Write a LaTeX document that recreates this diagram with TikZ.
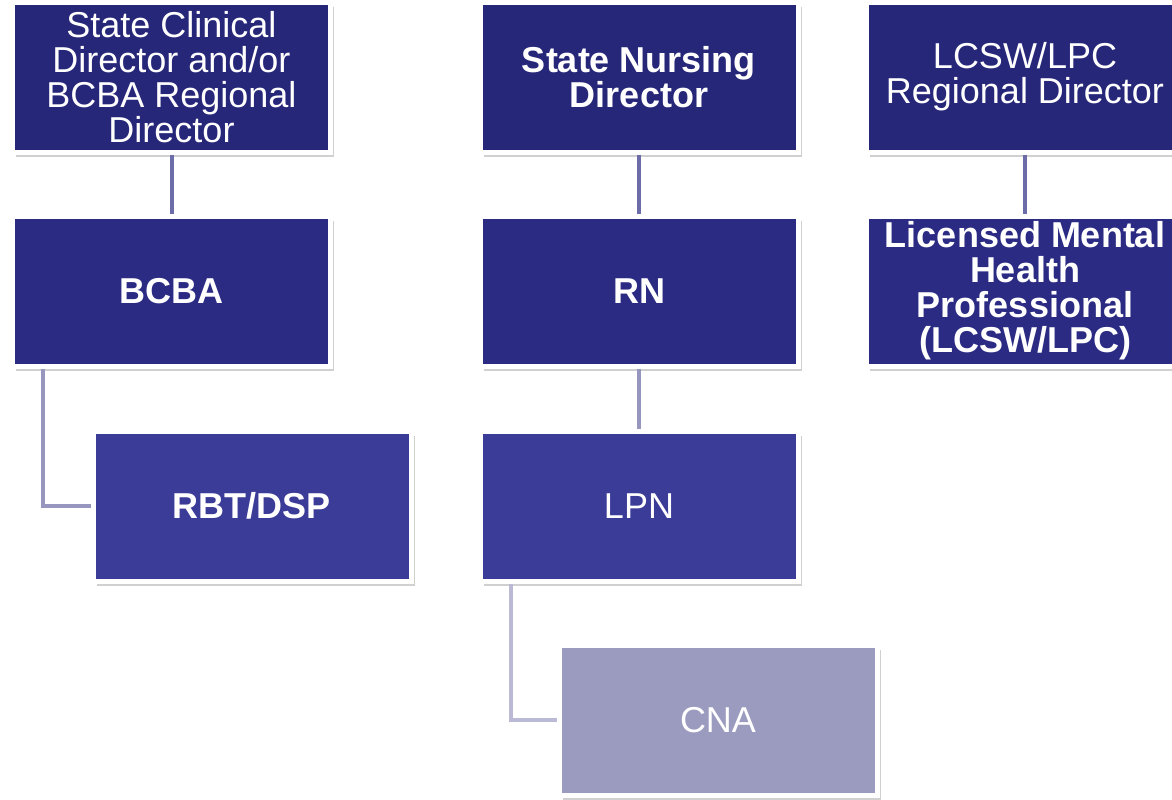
\documentclass[tikz,border=0pt]{standalone}
\usepackage{fontspec}
\setmainfont{Liberation Sans}
\usetikzlibrary{shadows}
\definecolor{topbox}{RGB}{39,39,122}
\definecolor{midbox}{RGB}{43,43,132}
\definecolor{lowbox}{RGB}{59,59,152}
\definecolor{palebox}{RGB}{155,155,192}
\definecolor{linkA}{RGB}{108,108,168}
\definecolor{linkB}{RGB}{150,150,190}
\definecolor{linkC}{RGB}{186,186,214}
\tikzset{
  box/.style={rectangle, minimum width=159pt, minimum height=75pt, inner sep=0pt,
    draw=white, line width=2.5pt, text=white, align=center,
    font=\fontsize{18}{17.5}\selectfont,
    drop shadow={shadow xshift=1.8pt, shadow yshift=-2.4pt, opacity=0.3, fill=black!60}},
  link/.style={line width=2pt}
}
\begin{document}
\begin{tikzpicture}[x=0.5pt,y=-0.5pt]
\useasboundingbox (0,0) rectangle (1172,799);
\clip (0,0) rectangle (1172,799);
\fill[white] (0,0) rectangle (1172,799);
% top row
\node[box,fill=topbox] (clinical) at (171.5,77) {State Clinical\\Director and/or\\BCBA Regional\\Director};
\node[box,fill=topbox] (nursing) at (639,77) {\textbf{State Nursing}\\\textbf{Director}};
\node[box,fill=topbox] (lcswdir) at (1025,77) {LCSW/LPC\\Regional Director};
% second row
\node[box,fill=midbox] (bcba) at (171.5,291) {\textbf{BCBA}};
\node[box,fill=midbox] (rn) at (639,291) {\textbf{RN}};
\node[box,fill=midbox] (lmhp) at (1025,291) {\textbf{Licensed Mental}\\\textbf{Health}\\\textbf{Professional}\\\textbf{(LCSW/LPC)}};
% third and fourth row
\node[box,fill=lowbox] (rbt) at (252,506) {\textbf{RBT/DSP}};
\node[box,fill=lowbox] (lpn) at (639,506) {LPN};
\node[box,fill=palebox] (cna) at (718,720) {CNA};

\draw[link,linkA] (clinical.south) -- (bcba.north);
\draw[link,linkA] (nursing.south) -- (rn.north);
\draw[link,linkA] (lcswdir.south) -- (lmhp.north);
\draw[link,linkB] (rn.south) -- (lpn.north);
\draw[link,linkB] ([xshift=16.5pt]bcba.south west) |- (rbt.west);
\draw[link,linkC] ([xshift=16.5pt]lpn.south west) |- (cna.west);
\end{tikzpicture}
\end{document}
